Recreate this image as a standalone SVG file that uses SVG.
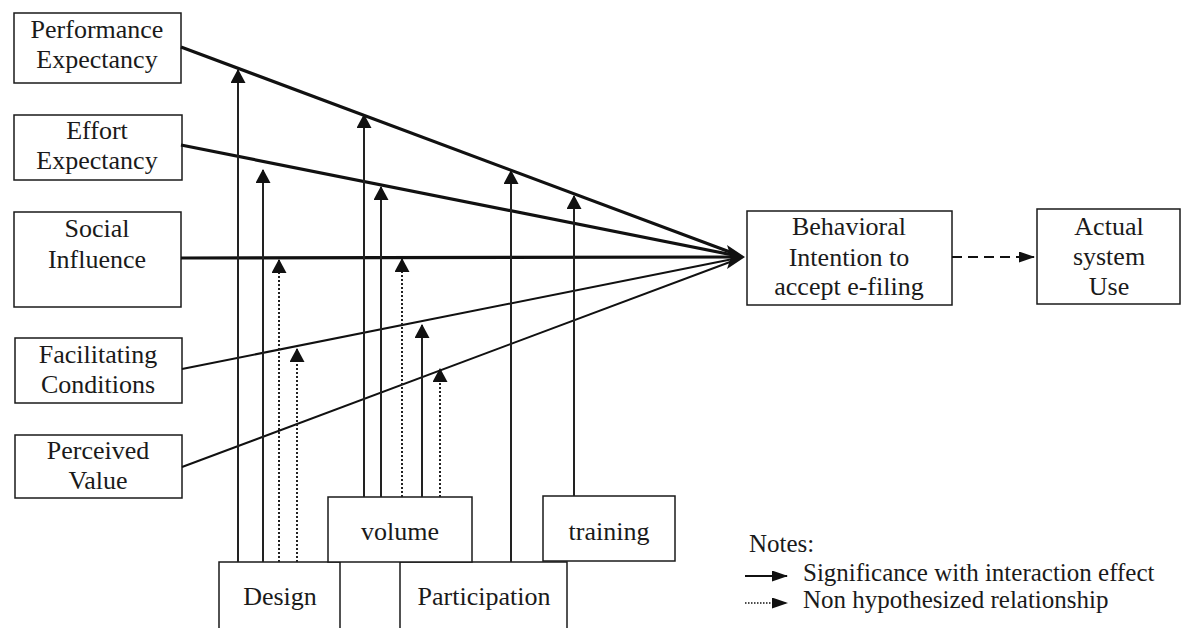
<svg xmlns="http://www.w3.org/2000/svg" width="1185" height="628" viewBox="0 0 1185 628">
  <style>
    .box { fill: #fff; stroke: #1a1a1a; stroke-width: 1.5; }
    .lbl { font-size: 26px; fill: #1a1a1a; text-anchor: middle; }
    .note { font-size: 25px; fill: #1a1a1a; }
    .thick { stroke: #111; stroke-width: 3.2; fill: none; }
    .thin { stroke: #111; stroke-width: 2; fill: none; }
    .mod { stroke: #222; stroke-width: 2; fill: none; marker-end: url(#head); }
    .dot { stroke: #222; stroke-width: 2; stroke-dasharray: 2 2; fill: none; marker-end: url(#head); }
  </style>
  <defs>
    <marker id="head" viewBox="0 0 14 15" refX="13" refY="7.5" markerWidth="14" markerHeight="15" markerUnits="userSpaceOnUse" orient="auto">
      <path d="M0,0 L14,7.5 L0,15 z" fill="#111"/>
    </marker>
    <marker id="small" viewBox="0 0 16 11" refX="15" refY="5.5" markerWidth="16" markerHeight="11" markerUnits="userSpaceOnUse" orient="auto">
      <path d="M0,0 L16,5.5 L0,11 z" fill="#111"/>
    </marker>
  </defs>

  <g font-family="Liberation Serif, Times New Roman, Noto Serif, serif">
  <!-- predictor constructs -->
  <g id="performance-expectancy">
    <rect class="box" x="14" y="13" width="167" height="70"/>
    <text class="lbl" x="97" y="38">Performance</text>
    <text class="lbl" x="97" y="68">Expectancy</text>
  </g>
  <g id="effort-expectancy">
    <rect class="box" x="14" y="115" width="168" height="65"/>
    <text class="lbl" x="97" y="139">Effort</text>
    <text class="lbl" x="97" y="169">Expectancy</text>
  </g>
  <g id="social-influence">
    <rect class="box" x="14" y="212" width="167" height="95"/>
    <text class="lbl" x="97" y="237">Social</text>
    <text class="lbl" x="97" y="268">Influence</text>
  </g>
  <g id="facilitating-conditions">
    <rect class="box" x="15" y="338" width="167" height="65"/>
    <text class="lbl" x="98" y="363">Facilitating</text>
    <text class="lbl" x="98" y="393">Conditions</text>
  </g>
  <g id="perceived-value">
    <rect class="box" x="15" y="435" width="167" height="63"/>
    <text class="lbl" x="98" y="459">Perceived</text>
    <text class="lbl" x="98" y="489">Value</text>
  </g>

  <!-- outcome constructs -->
  <g id="behavioral-intention">
    <rect class="box" x="747" y="211" width="205" height="94"/>
    <text class="lbl" x="849" y="235">Behavioral</text>
    <text class="lbl" x="849" y="266">Intention to</text>
    <text class="lbl" x="849" y="295">accept e-filing</text>
  </g>
  <g id="actual-system-use">
    <rect class="box" x="1037" y="209" width="143" height="95"/>
    <text class="lbl" x="1109" y="235">Actual</text>
    <text class="lbl" x="1109" y="265">system</text>
    <text class="lbl" x="1109" y="295">Use</text>
  </g>

  <!-- moderators -->
  <g id="design">
    <rect class="box" x="219" y="562" width="121" height="80"/>
    <text class="lbl" x="280" y="605">Design</text>
  </g>
  <g id="participation">
    <rect class="box" x="400" y="562" width="167" height="80"/>
    <text class="lbl" x="484" y="605">Participation</text>
  </g>
  <g id="volume">
    <rect class="box" x="328" y="497" width="144" height="65"/>
    <text class="lbl" x="400" y="540">volume</text>
  </g>
  <g id="training">
    <rect class="box" x="543" y="496" width="132" height="65"/>
    <text class="lbl" x="609" y="540">training</text>
  </g>

  <!-- paths into behavioral intention -->
  <g id="connectors">
    <line class="thick" x1="181" y1="47" x2="738" y2="255"/>
    <line class="thick" x1="181" y1="145" x2="738" y2="256"/>
    <line class="thick" x1="181" y1="258" x2="738" y2="257"/>
    <line class="thin" x1="182" y1="369" x2="738" y2="258"/>
    <line class="thin" x1="182" y1="467" x2="738" y2="259"/>
    <path d="M745,257 L727,245 L731,257 L727,269 z" fill="#111"/>

    <!-- intention to use -->
    <line x1="952" y1="257" x2="1034" y2="257" stroke="#111" stroke-width="2" stroke-dasharray="10 6" marker-end="url(#small)"/>

    <!-- design moderation -->
    <line class="mod" x1="238" y1="562" x2="238" y2="70"/>
    <line class="mod" x1="263" y1="562" x2="263" y2="170"/>
    <line class="dot" x1="279" y1="562" x2="279" y2="260"/>
    <line class="dot" x1="297" y1="562" x2="297" y2="349"/>

    <!-- volume moderation -->
    <line class="mod" x1="364" y1="497" x2="364" y2="115"/>
    <line class="mod" x1="381" y1="497" x2="381" y2="187"/>
    <line class="dot" x1="402" y1="497" x2="402" y2="259"/>
    <line class="mod" x1="422" y1="497" x2="422" y2="325"/>
    <line class="dot" x1="440" y1="497" x2="440" y2="369"/>

    <!-- participation and training moderation -->
    <line class="mod" x1="511" y1="562" x2="511" y2="171"/>
    <line class="mod" x1="574" y1="496" x2="574" y2="196"/>
  </g>

  <!-- legend -->
  <g id="legend">
    <text class="note" x="749" y="552">Notes:</text>
    <line x1="745" y1="576" x2="787" y2="576" stroke="#111" stroke-width="2" marker-end="url(#small)"/>
    <text class="note" x="803" y="581">Significance with interaction effect</text>
    <line x1="745" y1="603" x2="787" y2="603" stroke="#111" stroke-width="1.5" stroke-dasharray="1.5 1.5" marker-end="url(#small)"/>
    <text class="note" x="803" y="608">Non hypothesized relationship</text>
  </g>
  </g>
</svg>
